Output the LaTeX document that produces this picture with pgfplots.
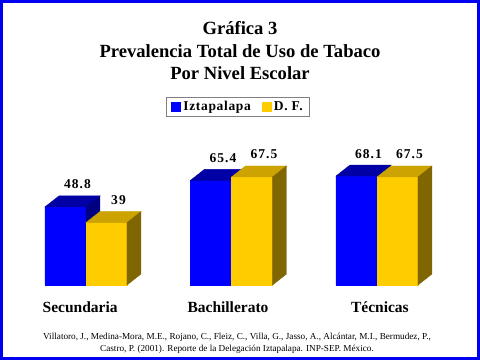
\documentclass[border=0pt]{standalone}
\usepackage{fontspec}
\setmainfont{Liberation Serif}
\newfontfamily\lsA{Liberation Serif}[LetterSpace=5]
\newfontfamily\lsB{Liberation Serif}[LetterSpace=8]
\usepackage{pgfplots}
\pgfplotsset{compat=1.18}
\definecolor{bfront}{RGB}{0,0,255}
\definecolor{btop}{RGB}{0,0,165}
\definecolor{bside}{RGB}{0,0,128}
\definecolor{yfront}{RGB}{255,204,0}
\definecolor{ytop}{RGB}{204,163,0}
\definecolor{yside}{RGB}{128,102,0}
\definecolor{frameblue}{RGB}{0,0,240}
\pgfdeclareplotmark{nothing}{}
\newcommand\valfont{\lsB\bfseries\fontsize{13.5bp}{16bp}\selectfont}
\newcommand\legfont{\lsA\bfseries\fontsize{13.5bp}{16bp}\selectfont}
\newcommand\catfont{\bfseries\fontsize{15.5bp}{18bp}\selectfont}
\newcommand\titfont{\bfseries\fontsize{18.6bp}{22bp}\selectfont}
\begin{document}
\begin{tikzpicture}
\useasboundingbox (0,0) rectangle (480bp,360bp);
\fill[white] (0,0) rectangle (480bp,360bp);
\node[anchor=base, font=\titfont, inner sep=0pt] at (240bp,325bp) {Gráfica 3};
\node[anchor=base, font=\titfont, inner sep=0pt] at (240bp,302.5bp) {Prevalencia Total de Uso de Tabaco};
\node[anchor=base, font=\titfont, inner sep=0pt] at (240bp,280.5bp) {Por Nivel Escolar};
\begin{axis}[
  at={(0bp,75bp)}, anchor=south west,
  scale only axis, width=480bp, height=160bp,
  xmin=-0.591, xmax=2.708, ymin=0, ymax=100,
  clip=false,
  axis line style={draw=none},
  tick style={draw=none},
  ytick=\empty,
  xtick={-0.04,0.976,2.02},
  xticklabels={Secundaria,Bachillerato,Técnicas},
  xticklabel style={font=\catfont, anchor=north, inner sep=0pt, yshift=-17bp},
  legend columns=2,
  legend style={at={(axis description cs:0.496,1.1125)}, anchor=center,
    draw=gray, line width=1bp, font=\legfont, inner xsep=5bp, inner ysep=2bp,
    /tikz/every even column/.append style={column sep=9bp}},
  visualization depends on={rawy \as \val},
]
% Iztapalapa fronts
\addplot[ybar, bar width=41bp, bar shift=-20.5bp, fill=bfront, draw=none,
  legend image code/.code={\fill[bfront] (0bp,-5bp) rectangle (10bp,5bp);}]
  coordinates {(0,48.8) (1,65.4) (2,68.1)};
\addlegendentry{Iztapalapa}
% D. F. fronts
\addplot[ybar, bar width=41bp, bar shift=20.5bp, fill=yfront, draw=none,
  legend image code/.code={\fill[yfront] (0bp,-5bp) rectangle (10bp,5bp);}]
  coordinates {(0,39) (1,67.5) (2,67.5)};
\addlegendentry{D. F.}
% Iztapalapa depth faces and labels
\addplot[forget plot, only marks, mark=nothing, scatter,
  scatter/@pre marker code/.code={%
    \pgfmathsetmacro\h{\val*1.6}%
    \fill[bfront] (-41bp,0bp) rectangle (0bp,-\h bp);
    \fill[btop] (-41bp,0bp) -- (0bp,0bp) -- (14bp,11bp) -- (-27bp,11bp) -- cycle;
    \fill[bside] (0bp,0bp) -- (14bp,11bp) -- (14bp,11bp-\h bp) -- (0bp,-\h bp) -- cycle;
    \node[anchor=base, font=\valfont, inner sep=0pt] at (-8.5bp,18bp)
      {\pgfmathprintnumber[assume math mode=true]{\val}};
  },
  scatter/@post marker code/.code={}]
  coordinates {(0,48.8) (1,65.4) (2,68.1)};
% D. F. depth faces and labels
\addplot[forget plot, only marks, mark=nothing, scatter,
  scatter/@pre marker code/.code={%
    \pgfmathsetmacro\h{\val*1.6}%
    \fill[yfront] (0bp,0bp) rectangle (41bp,-\h bp);
    \fill[ytop] (0bp,0bp) -- (41bp,0bp) -- (55bp,11bp) -- (14bp,11bp) -- cycle;
    \fill[yside] (41bp,0bp) -- (55bp,11bp) -- (55bp,11bp-\h bp) -- (41bp,-\h bp) -- cycle;
    \node[anchor=base, font=\valfont, inner sep=0pt] at (32.5bp,18bp)
      {\pgfmathprintnumber[assume math mode=true]{\val}};
  },
  scatter/@post marker code/.code={}]
  coordinates {(0,39) (1,67.5) (2,67.5)};
\end{axis}
\node[anchor=base, inner sep=0pt, font=\fontsize{9.2bp}{11bp}\selectfont] at (237bp,20.5bp)
  {Villatoro, J., Medina-Mora, M.E., Rojano, C., Fleiz, C., Villa, G., Jasso, A., Alcántar, M.I., Bermudez, P.,};
\node[anchor=base, inner sep=0pt, font=\fontsize{9.2bp}{11bp}\selectfont] at (237bp,9bp)
  {Castro, P. (2001). Reporte de la Delegación Iztapalapa. INP-SEP. México.};
\draw[line width=3bp, frameblue] (1.5bp,1.5bp) rectangle (478.5bp,358.5bp);
\end{tikzpicture}
\end{document}
